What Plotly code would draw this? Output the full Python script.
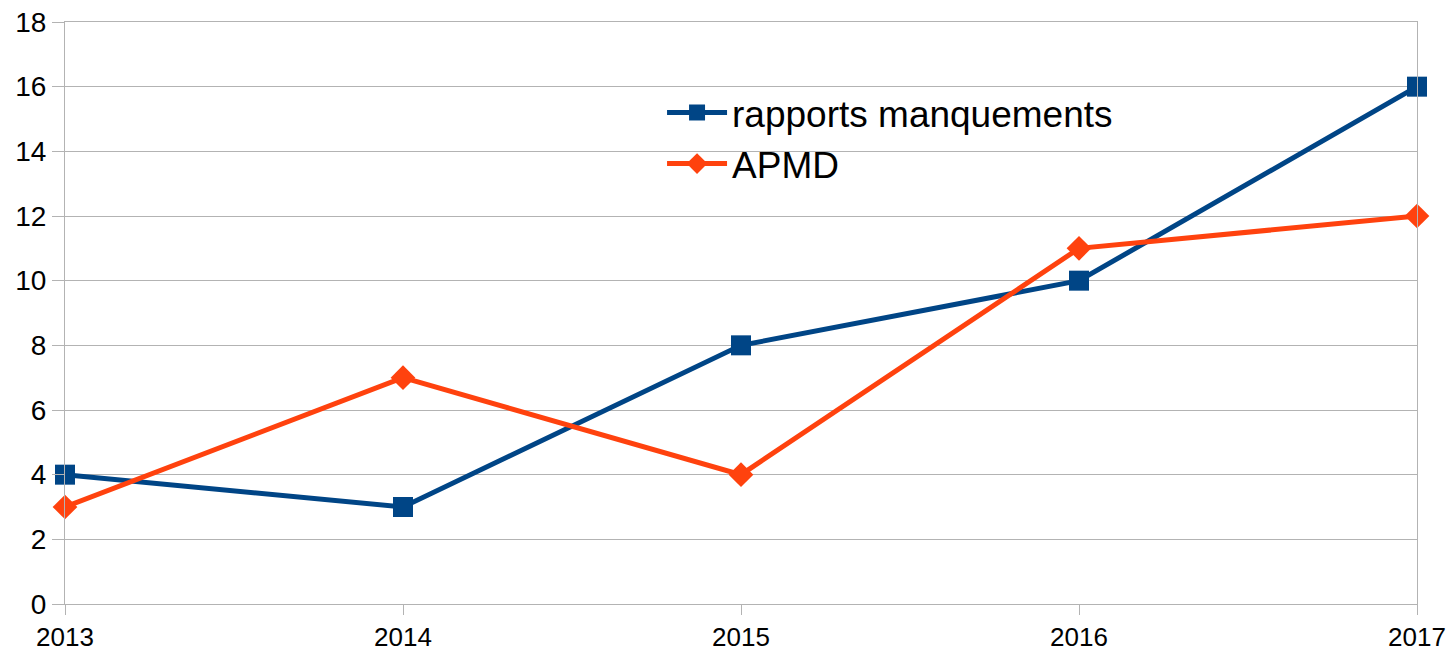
import plotly.graph_objects as go

years = [2013, 2014, 2015, 2016, 2017]
rapports = [4, 3, 8, 10, 16]
apmd = [3, 7, 4, 11, 12]

fig = go.Figure()
fig.add_trace(go.Scatter(
    x=years, y=rapports, name='rapports manquements', mode='lines+markers',
    line=dict(color='#004586', width=5), cliponaxis=False,
    marker=dict(symbol='square', size=20, color='#004586')))
fig.add_trace(go.Scatter(
    x=years, y=apmd, name='APMD', mode='lines+markers',
    line=dict(color='#ff420e', width=5), cliponaxis=False,
    marker=dict(symbol='diamond', size=19, color='#ff420e')))

# page body has an 8px margin, so the figure is a bit smaller than the window
fig.update_layout(
    width=1447, height=645,
    margin=dict(l=57, r=38, t=14, b=49),
    paper_bgcolor='white', plot_bgcolor='white',
    font=dict(family='Liberation Sans', color='black', size=28),
    showlegend=True,
    legend=dict(x=0.4416, y=0.897, xanchor='left', yanchor='top',
                font=dict(size=37), bgcolor='rgba(0,0,0,0)',
                itemwidth=60, tracegroupgap=0),
)
fig.update_xaxes(
    range=[2013, 2017], tickvals=years, ticktext=[str(y) for y in years],
    showgrid=False, showline=True, linecolor='#b3b3b3', linewidth=1, mirror=True,
    ticks='outside', ticklen=10, tickcolor='#b3b3b3', zeroline=False,
    tickfont=dict(size=26), automargin=False, ticklabeloverflow='allow')
fig.update_yaxes(
    range=[0, 18], dtick=2,
    showgrid=True, gridcolor='#b3b3b3', gridwidth=1,
    showline=True, linecolor='#b3b3b3', linewidth=1, mirror=True,
    ticks='outside', ticklen=12, tickcolor='#b3b3b3', zeroline=False,
    tickfont=dict(size=28), automargin=False, ticklabeloverflow='allow')

fig.write_html("out.html")
